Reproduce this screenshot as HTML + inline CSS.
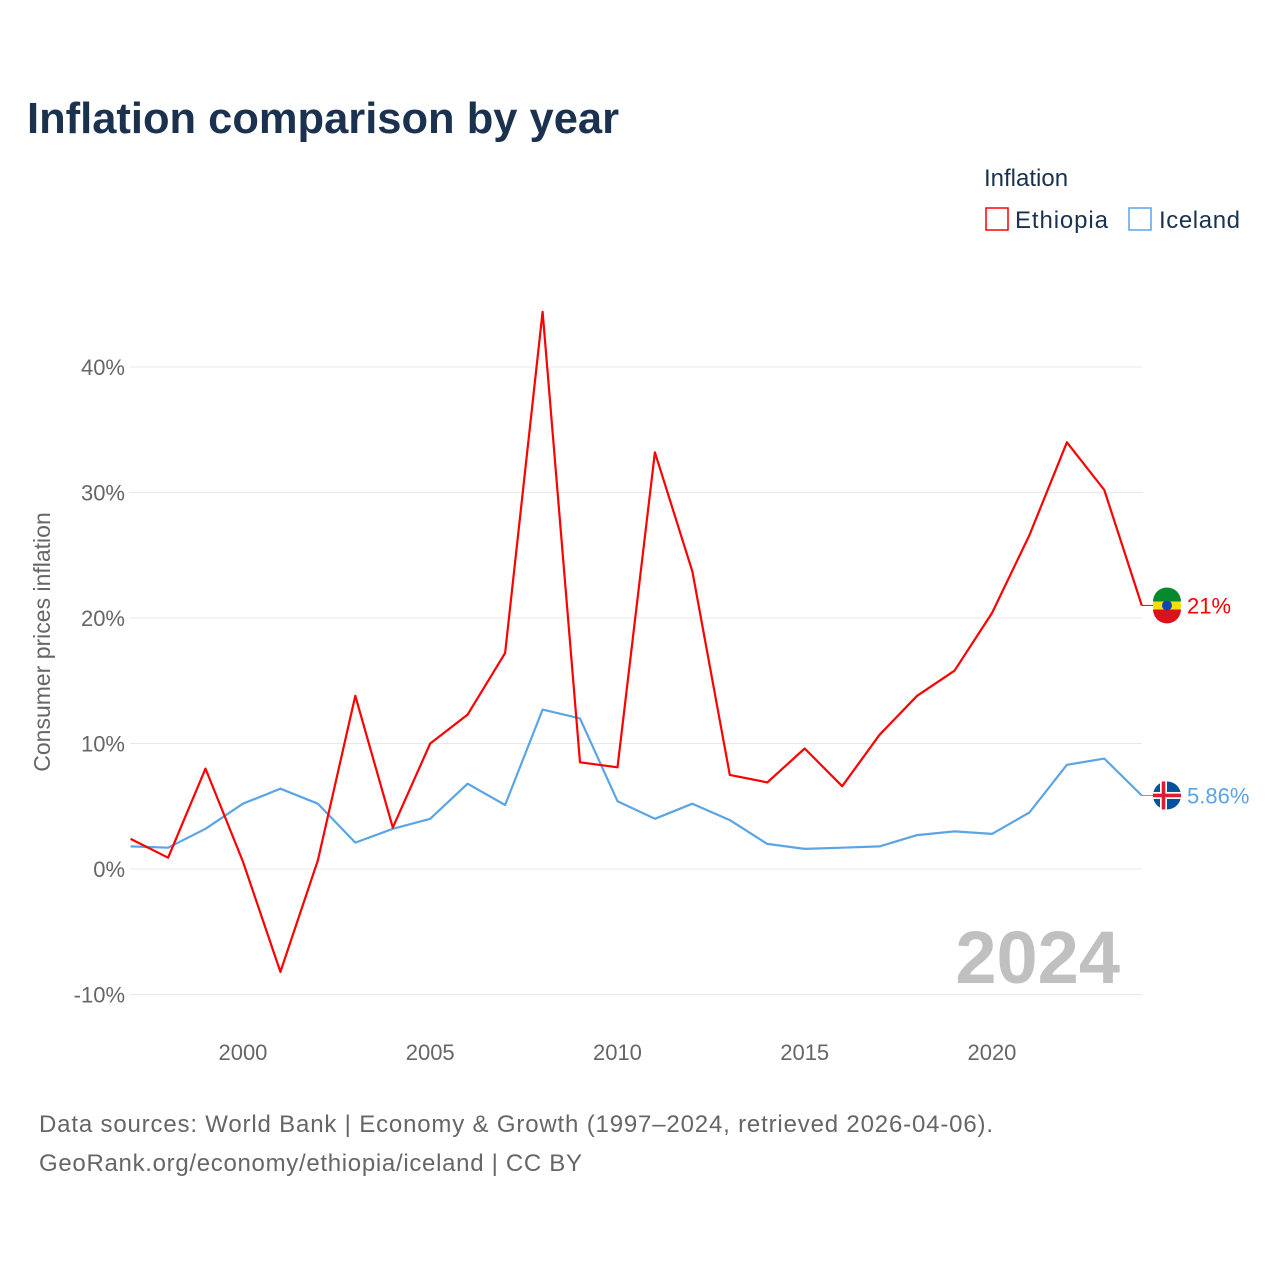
<!DOCTYPE html>
<html><head><meta charset="utf-8"><style>
body{margin:0;background:#fff;font-family:"Liberation Sans",sans-serif}
svg text{font-family:"Liberation Sans",sans-serif}
</style></head><body>
<svg id="chart" width="1280" height="1280" viewBox="0 0 1280 1280" xmlns="http://www.w3.org/2000/svg">
<rect width="1280" height="1280" fill="#fff"/>
<text x="27" y="133" font-size="44" font-weight="bold" fill="#1a3150" textLength="592" lengthAdjust="spacingAndGlyphs">Inflation comparison by year</text>
<text x="984" y="186" font-size="24" fill="#1a3150">Inflation</text>
<g><rect x="986" y="208" width="22" height="22" fill="none" stroke="#f00" stroke-width="1.5"/><text x="1015" y="228" font-size="24" fill="#1a3150" textLength="93">Ethiopia</text></g>
<g><rect x="1129" y="208" width="22" height="22" fill="none" stroke="#5ba4e6" stroke-width="1.5"/><text x="1159" y="228" font-size="24" fill="#1a3150" textLength="81">Iceland</text></g>
<text transform="translate(50,642) rotate(-90)" text-anchor="middle" font-size="23" fill="#666">Consumer prices inflation</text>
<g id="grid"></g><g id="xticks"></g>
<text x="1120" y="983" text-anchor="end" font-size="74" font-weight="bold" fill="#c0c0c0">2024</text>
<g id="series"></g>
<text x="39" y="1132" font-size="24" fill="#666" textLength="954">Data sources: World Bank | Economy &amp; Growth (1997–2024, retrieved 2026-04-06).</text>
<text x="39" y="1171" font-size="24" fill="#666" textLength="543">GeoRank.org/economy/ethiopia/iceland | CC BY</text>
</svg>
<script>
const years=[1997,1998,1999,2000,2001,2002,2003,2004,2005,2006,2007,2008,2009,2010,2011,2012,2013,2014,2015,2016,2017,2018,2019,2020,2021,2022,2023,2024];
const ethiopia=[2.4,0.9,8.0,0.6,-8.2,0.7,13.8,3.3,10.0,12.3,17.2,44.4,8.5,8.1,33.2,23.7,7.5,6.9,9.6,6.6,10.7,13.8,15.8,20.4,26.6,34.0,30.2,21.0];
const iceland=[1.8,1.7,3.2,5.2,6.4,5.2,2.1,3.2,4.0,6.8,5.1,12.7,12.0,5.4,4.0,5.2,3.9,2.0,1.6,1.7,1.8,2.7,3.0,2.8,4.5,8.3,8.8,5.86];
const yTicks=[-10,0,10,20,30,40];
const xTicks=[2000,2005,2010,2015,2020];
const ethLabel="21%", iceLabel="5.86%";
const NS="http://www.w3.org/2000/svg";
const X=y=>130.6+(y-1997)*37.45;
const Y=v=>869-v*12.55;
function mk(t,a,p){const e=document.createElementNS(NS,t);for(const k in a)e.setAttribute(k,a[k]);p.appendChild(e);return e;}
const g=document.getElementById('grid');
yTicks.forEach(v=>{
 const l=mk('line',{x1:130,x2:1142,y1:Y(v),y2:Y(v),stroke:'#e8e8e8','stroke-width':1},g);
 
 
 const t=mk('text',{x:125,y:Y(v)+8,'text-anchor':'end','font-size':22,fill:'#666'},g);
 
 
 t.textContent=v+'%';
});
const xt=document.getElementById('xticks');
xTicks.forEach(v=>{
 const t=mk('text',{x:X(v),y:1060,'text-anchor':'middle','font-size':22,fill:'#666'},xt);
 
 
 t.textContent=v;
});
const s=document.getElementById('series');
function draw(vals,color,name,label){
 const d=vals.map((v,i)=>(i?'L':'M')+X(years[i]).toFixed(1)+','+Y(v).toFixed(1)).join('');
 const p=mk('path',{d:d,fill:'none',stroke:color,'stroke-width':2.2,'stroke-linejoin':'round'},s);
 
 
 const last=vals[vals.length-1],ly=Y(last);
 mk('line',{x1:X(2024),x2:1153,y1:ly,y2:ly,stroke:color,'stroke-width':1},s);
 const c=mk('circle',{cx:1167,cy:ly,r:14,fill:name==='ethiopia'?'#fcdd09':'#02529c'},s);
 
 
 if(name==='ethiopia'){
  mk('path',{d:`M1153,${ly-4}A14,14 0 0 1 1181,${ly-4}Z`,fill:'#078930'},s);
  mk('path',{d:`M1153,${ly+4}A14,14 0 0 0 1181,${ly+4}Z`,fill:'#da121a'},s);
  mk('circle',{cx:1167,cy:ly,r:5,fill:'#0f47af'},s);
 }else{
  mk('rect',{x:1153,y:ly-3.5,width:28,height:7,fill:'#fff'},s);
  mk('rect',{x:1160,y:ly-14,width:7,height:28,fill:'#fff'},s);
  mk('rect',{x:1153,y:ly-1.8,width:28,height:3.6,fill:'#dc1e35'},s);
  mk('rect',{x:1161.7,y:ly-14,width:3.6,height:28,fill:'#dc1e35'},s);
 }
 const t=mk('text',{x:1187,y:ly+8,'font-size':22,fill:color},s);
 
 
 t.textContent=label;
}
draw(iceland,'#5ba4e6','iceland',iceLabel);
draw(ethiopia,'#f00','ethiopia',ethLabel);
</script>
</body></html>
